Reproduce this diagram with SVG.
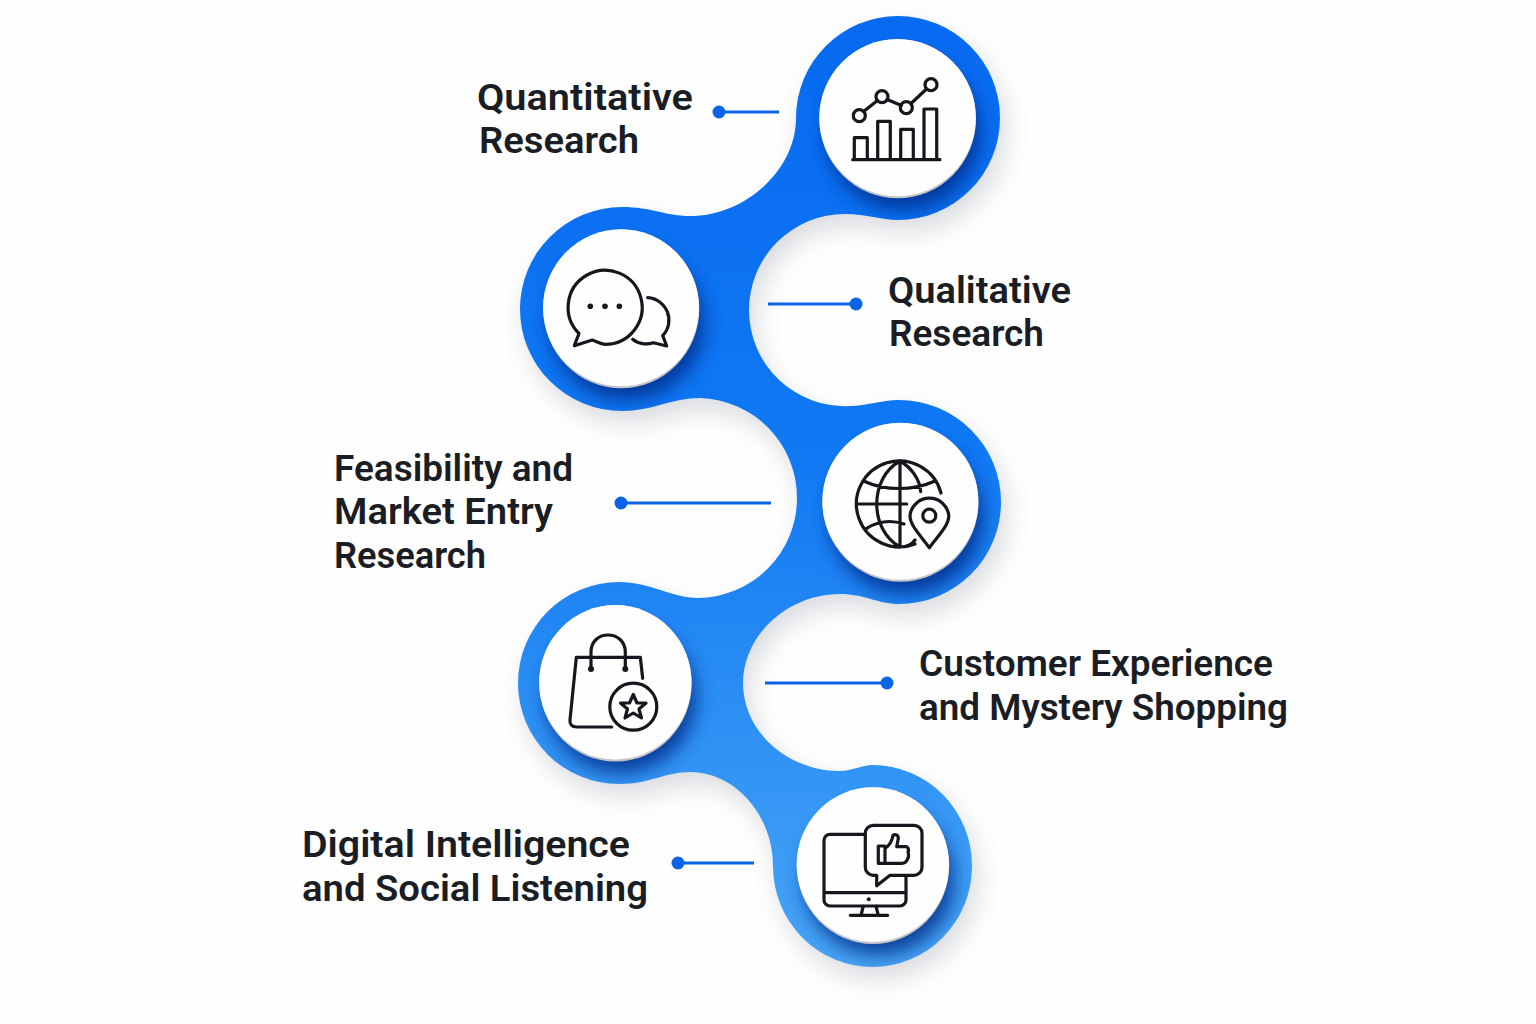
<svg xmlns="http://www.w3.org/2000/svg" width="1536" height="1024" viewBox="0 0 1536 1024">
<style>
.lbl{font-family:"Roboto","Liberation Sans",sans-serif;font-weight:600;font-size:37.5px;fill:#1a1d24}
.ic{fill:none;stroke:#15171c;stroke-width:3.2;stroke-linecap:round;stroke-linejoin:round}
.dk{fill:#15171c}
.disc{fill:#fefefe}
.rim{fill:#c4c4c8}
.sh{fill:#032a86;opacity:.8;filter:url(#b14)}
.cl{stroke:#0b63e6;stroke-width:2.8;fill:none}
.cd{fill:#0b63e6}
</style>
<defs>
<linearGradient id="rg" gradientUnits="userSpaceOnUse" x1="0" y1="20" x2="0" y2="970">
<stop offset="0" stop-color="#076af0"/><stop offset=".45" stop-color="#0f78f3"/><stop offset="1" stop-color="#47a5f5"/>
</linearGradient>
<filter id="b14" x="-40%" y="-40%" width="180%" height="180%"><feGaussianBlur stdDeviation="9"/></filter>
<filter id="b20" x="-20%" y="-20%" width="140%" height="140%"><feGaussianBlur stdDeviation="12"/></filter>
<path id="rib" d="M898 16A102 102 0 0 1 898 220C880 220 868 214 845 214A96 96 0 0 0 749 310A96 96 0 0 0 850 406C868 406 880 400 899 400A102 102 0 0 1 899 604C878 604 865 594 840 594C788 594 743 635 743 683C743 732 788 771 840 771C852 771 862 765 872.500 765A99.500 101 0 1 1 773 866C773 815 735 772 690 772C665 772 650 784 619 784A101 101 0 0 1 619 582C650 582 672 598 698 598A100 100 0 0 0 797 498A100 100 0 0 0 700 398C672 398 652 411 622 411A102 102 0 0 1 622 207C652 207 665 216 690 216C745 216 796 170 796 118A102 102 0 0 1 898 16Z"/>
<clipPath id="cp"><use href="#rib"/></clipPath>
</defs>
<rect width="1536" height="1024" fill="#fefefe"/>
<use href="#rib" fill="#5a6475" opacity=".22" transform="translate(6 12)" filter="url(#b20)"/>
<use href="#rib" fill="url(#rg)"/>
<g id="connectors">
<path class="cl" d="M719 112H779M768 304H856M621 503H771M765 683H887M678 863H754"/>
<circle class="cd" cx="719" cy="112" r="6.500"/><circle class="cd" cx="856" cy="304" r="6.500"/><circle class="cd" cx="621" cy="503" r="6.500"/><circle class="cd" cx="887" cy="683" r="6.500"/><circle class="cd" cx="678" cy="863" r="6.500"/>
</g>
<g id="node-quantitative">
<g clip-path="url(#cp)"><circle class="sh" cx="903" cy="133" r="77"/></g>
<ellipse class="rim" cx="897.700" cy="118.700" rx="78.300" ry="79.600"/><ellipse class="disc" cx="897.500" cy="117.700" rx="78.300" ry="78.600"/>
<path class="ic" d="M863.500 111.500L877.500 100.500M887 99.500L901.500 105.500M911 103.500L926.500 89"/>
<circle class="ic" cx="859.300" cy="115.700" r="6"/><circle class="ic" cx="882" cy="96.700" r="6"/><circle class="ic" cx="906.300" cy="107.700" r="6"/><circle class="ic" cx="931" cy="84.700" r="6"/>
<path class="ic" d="M852.700 159.700H940M854.300 159.700V137.700H867.300V159.700M877.700 159.700V121.300H890.300V159.700M900.700 159.700V129.300H913.300V159.700M924 159.700V109H936.700V159.700"/>
<text class="lbl" x="477" y="110" textLength="216" lengthAdjust="spacingAndGlyphs">Quantitative</text><text class="lbl" x="479" y="153" textLength="160" lengthAdjust="spacingAndGlyphs">Research</text>
</g>
<g id="node-qualitative">
<g clip-path="url(#cp)"><circle class="sh" cx="627" cy="323" r="77"/></g>
<ellipse class="rim" cx="621.300" cy="308.800" rx="78" ry="79.500"/><ellipse class="disc" cx="621" cy="307.800" rx="78" ry="78.500"/>
<path class="ic" d="M592.300 340C598 342 600 344 605 344.300A37 37 0 1 0 579 333.500L574.300 345.700Z"/>
<circle class="dk" cx="590.300" cy="306.300" r="2.800"/><circle class="dk" cx="605" cy="306.300" r="2.800"/><circle class="dk" cx="619.300" cy="306.300" r="2.800"/>
<path class="ic" d="M647.700 297.700A22.500 22.500 0 0 1 662.700 335.700L666.700 346L653.300 342.700C647 345 638 344 632.700 339.300"/>
<text class="lbl" x="888" y="303" textLength="183" lengthAdjust="spacingAndGlyphs">Qualitative</text><text class="lbl" x="889" y="346" textLength="155" lengthAdjust="spacingAndGlyphs">Research</text>
</g>
<g id="node-feasibility">
<g clip-path="url(#cp)"><circle class="sh" cx="906" cy="517" r="77"/></g>
<ellipse class="rim" cx="900.500" cy="502.200" rx="78" ry="79.500"/><ellipse class="disc" cx="900.300" cy="501.200" rx="78" ry="78.500"/>
<path class="ic" d="M915 544A43 43 0 1 1 941 493M900 461V547M900 461C869 478 869 530 900 547M900 461C912 468 920 480 920.700 491.700M857 504H906.700M863.500 481C885 491 913 491 935 481M866.700 528.300C880 520 892 520 904 524M900 547C906 547 911 546 915 540"/>
<path class="ic" d="M929.300 547.700C922 537 910 526 910 515.700A19.500 19.500 0 0 1 948.800 515.700C948.800 526 937 537 929.300 547.700Z"/>
<circle class="ic" cx="929.300" cy="515.700" r="6.500"/>
<text class="lbl" x="334" y="481" textLength="239" lengthAdjust="spacingAndGlyphs">Feasibility and</text><text class="lbl" x="334" y="524" textLength="219" lengthAdjust="spacingAndGlyphs">Market Entry</text><text class="lbl" x="334" y="568" textLength="152" lengthAdjust="spacingAndGlyphs">Research</text>
</g>
<g id="node-customer">
<g clip-path="url(#cp)"><circle class="sh" cx="621" cy="698" r="75"/></g>
<ellipse class="rim" cx="615.500" cy="683.300" rx="76.200" ry="78.300"/><ellipse class="disc" cx="615.300" cy="682.300" rx="76.200" ry="77.300"/>
<path class="ic" d="M642.700 678.300L640.300 657.300H576.300L570 720C569.500 724.500 572 727 576.700 727H611.700M591 669V652C591 642 598 635 608 635C618 635 625.300 642 625.300 652V669"/>
<circle class="dk" cx="591" cy="669" r="3"/><circle class="dk" cx="625.300" cy="669" r="3"/>
<circle class="ic" cx="633.300" cy="706.700" r="23.500"/>
<path class="ic" d="M633.300 694.500L637 703H646L639 709L641.500 718L633.300 713L625 718L627.500 709L620.500 703H629.500Z"/>
<text class="lbl" x="919" y="676" textLength="354" lengthAdjust="spacingAndGlyphs">Customer Experience</text><text class="lbl" x="919" y="720" textLength="369" lengthAdjust="spacingAndGlyphs">and Mystery Shopping</text>
</g>
<g id="node-digital">
<g clip-path="url(#cp)"><circle class="sh" cx="879" cy="880" r="75"/></g>
<ellipse class="rim" cx="873" cy="865.600" rx="76.200" ry="78.300"/><ellipse class="disc" cx="872.800" cy="864.600" rx="76.200" ry="77.300"/>
<path class="ic" d="M865 834.300H830A6 6 0 0 0 824 840.300V900A6 6 0 0 0 830 906H900A6 6 0 0 0 906 900V876M824 892.700H906M863.300 906L861 915.300M876 906L878.300 915.300M850.300 915.300H887.700"/>
<circle class="dk" cx="868.700" cy="899.300" r="2"/>
<path class="ic" d="M873.300 825.300H914A8 8 0 0 1 922 833.300V867.300A8 8 0 0 1 914 875.300H890L876.700 885.700V875.300H873.300A8 8 0 0 1 865.300 867.300V833.300A8 8 0 0 1 873.300 825.300Z"/>
<path class="ic" d="M878.300 846H885V863.300H878.300ZM885 848.300C889 846 892 841 893 835.500C895 833.500 898.500 835 898.300 838.500L896.700 846.700H906C908.500 847 909 850 908 852C909 855 908.500 858 907 860C906 862.500 904 863.300 902 863.300H885"/>
<text class="lbl" x="302" y="857" textLength="328" lengthAdjust="spacingAndGlyphs">Digital Intelligence</text><text class="lbl" x="302" y="901" textLength="346" lengthAdjust="spacingAndGlyphs">and Social Listening</text>
</g>
</svg>
